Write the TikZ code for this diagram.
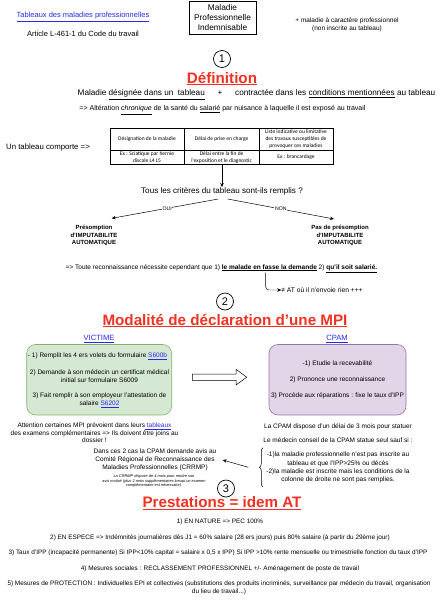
\documentclass[tikz,border=0pt]{standalone}
\usepackage{fontspec}
\setmainfont{Liberation Sans}
\newfontfamily\calib{Carlito}
\usetikzlibrary{arrows.meta,decorations.pathreplacing,calc}
\definecolor{linkblue}{RGB}{40,40,240}
\definecolor{titlered}{RGB}{240,50,35}
\definecolor{gfill}{RGB}{213,232,212}
\definecolor{gline}{RGB}{130,179,102}
\definecolor{pfill}{RGB}{225,213,231}
\definecolor{pline}{RGB}{150,115,166}
\newcommand{\fs}[2]{\fontsize{#1}{#2}\selectfont}
\newcommand{\lnk}[1]{\textcolor{linkblue}{\underline{#1}}}
\begin{document}
\begin{tikzpicture}[x=1pt,y=-1pt,
  txt/.style={inner sep=0pt,align=center,font=\fs{6.5}{8}},
  title/.style={inner sep=0pt,font=\fs{15.2}{16}\bfseries,text=titlered},
  num/.style={circle,draw,line width=0.7pt,minimum size=17pt,inner sep=0pt,font=\fs{11}{12}},
  arr/.style={-{Stealth[length=4pt,width=3.5pt]},line width=0.5pt},
  cell/.style={inner sep=0pt,align=center,font=\calib\fs{5.5}{7}},
  rbox/.style={rounded corners=9pt,line width=0.6pt,minimum height=70.5pt,inner sep=0pt},
  lbl/.style={fill=white,inner sep=0.6pt,font=\fs{5.2}{6}},
]
\useasboundingbox (0,0) rectangle (441,600);
% header
\node[txt,font=\fs{7.5}{9}] (tab) at (83,17) {\lnk{Tableaux des maladies professionnelles}};
\node[txt,font=\fs{7.5}{9}] (art) at (83,33.5) {Article L-461-1 du Code du travail};
\node[draw,line width=0.6pt,minimum width=67pt,minimum height=33pt,inner sep=0pt,align=center,font=\fs{8.3}{9.7}] (mpi) at (222.5,17.5) {Maladie\\Professionnelle\\Indemnisable};
\node[txt,font=\fs{6.5}{8.3}] (carac) at (347,24.5) {+ maladie à caractère professionnel\\(non inscrite au tableau)};
% section 1
\node[num] (n1) at (222,59) {1};
\node[title] (def) at (222,78.5) {\underline{Définition}};
\node[txt,font=\fs{8.2}{9}] (mal) at (256.5,94.5) {Maladie \underline{désignée dans un\ \ tableau}\quad\ \ +\ \ \quad contractée dans les \underline{conditions mentionnées} au tableau};
\node[txt,font=\fs{7}{8}] (alt) at (222.5,110) {=> Altération \underline{\textit{chronique}} de la santé du \underline{salarié} par nuisance à laquelle il est exposé au travail};
\node[txt,font=\fs{7.8}{9}] (comp) at (48,147) {Un tableau comporte =>};
% table
\draw[line width=0.5pt] (110,128.3) rectangle (333,164.3);
\draw[line width=0.4pt] (184.3,128.3) -- (184.3,164.3) (259,128.3) -- (259,164.3) (110,150) -- (333,150);
\node[cell] (c11) at (147,139.5) {Désignation de la maladie};
\node[cell] (c12) at (221.6,139.5) {Délai de prise en charge};
\node[cell] (c13) at (296,139.5) {Liste indicative ou limitative\\des travaux susceptibles de\\provoquer ces maladies};
\node[cell] (c21) at (147,157.3) {Ex : Sciatique par hernie\\discale L4 L5};
\node[cell] (c22) at (221.6,157.3) {Délai entre la fin de\\l'exposition et le diagnostic};
\node[cell] (c23) at (296,157.3) {Ex : brancardage};
\coordinate (tbot) at (222,164.3);
\node[txt,font=\fs{8.1}{9}] (q) at (222,191) {Tous les critères du tableau sont-ils remplis ?};
\draw[arr] (tbot) -- (q.north);
\node[txt,font=\bfseries\fs{6}{7.7}] (oui) at (94,235.5) {Présomption\\d'IMPUTABILITE\\AUTOMATIQUE};
\node[txt,font=\bfseries\fs{6}{7.7}] (non) at (340,235.5) {Pas de présomption\\d'IMPUTABILITE\\AUTOMATIQUE};
\coordinate (oa) at (218.3,199);
\coordinate (na) at (227.7,199);
\coordinate (oe) at (111.7,218.3);
\coordinate (ne) at (334,219);
\draw[arr] (oa) -- node[lbl,pos=0.48] {OUI} (oe);
\draw[arr] (na) -- node[lbl,pos=0.5] {NON} (ne);
\node[txt,font=\fs{6.5}{8}] (tout) at (221.5,268.5) {=> Toute reconnaissance nécessite cependant que 1) \textbf{\underline{le malade en fasse la demande}} 2) \textbf{\underline{qu'il soit salarié.}}};
\node[txt,font=\fs{6.7}{8}] (rien) at (322,290) {≠ AT où il n'envoie rien +++};
\coordinate (dem) at (265.7,272.7);
\draw[arr,line width=0.45pt,rounded corners=3pt] (dem) |- (rien.west);
% section 2
\node[num] (n2) at (225,301.5) {2};
\node[title] (mod) at (225,320.5) {\underline{Modalité de déclaration d'une MPI}};
\node[txt,font=\fs{7.6}{9}] (vic) at (99,339) {\lnk{VICTIME}};
\node[txt,font=\fs{7.6}{9}] (cpam) at (337,339) {\lnk{CPAM}};
\node[rbox,draw=gline,fill=gfill,minimum width=145pt] (gbox) at (99.2,379.7) {};
\node[txt] (g1) at (97.5,356.5) {- 1) Remplit les 4 ers volets du formulaire \lnk{S600b}};
\node[txt] (g2) at (99.5,376) {2) Demande à son médecin un certificat médical\\initial sur formulaire S6009};
\node[txt] (g3) at (99.5,400) {3) Fait remplir à son employeur l'attestation de\\salaire \lnk{S6202}};
\node[rbox,draw=pline,fill=pfill,minimum width=137pt] (pbox) at (337.5,379.7) {};
\node[txt] (p1b) at (337.5,363.5) {-1) Etudie la recevabilité};
\node[txt] (p2b) at (337.5,380) {2) Prononce une reconnaissance};
\node[txt] (p3b) at (337.5,396) {3) Procède aux réparations : fixe le taux d'IPP};
\draw[line width=0.5pt,fill=white] (192.3,374) -- (236,374) -- (236,369.3) -- (246.7,377.2) -- (236,385) -- (236,380.4) -- (192.3,380.4) -- cycle;
\node[txt,font=\fs{6.5}{7.6}] (att) at (94.5,433) {Attention certaines MPI prévoient dans leurs\lnk{ tableaux}\\des examens complémentaires => Ils doivent être joins au\\dossier !};
\node[txt] (delai) at (338,426.5) {La CPAM dispose d'un délai de 3 mois pour statuer};
\node[txt] (medc) at (338,440) {Le médecin conseil de la CPAM statue seul sauf si :};
\node[txt,font=\fs{6.5}{8.2}] (cas) at (338,467.5) {-1)la maladie professionnelle n'est pas inscrite au\\tableau et que l'IPP>25\% ou décès\\-2)la maladie est inscrite mais les conditions de la\\colonne de droite ne sont pas remplies.};
\draw[line width=0.5pt,decorate,decoration={brace,amplitude=3.5pt}] (263,486.7) -- (263,447.7);
\node[txt,font=\fs{6.5}{7.8}] (crrmp) at (155,460) {Dans ces 2 cas la CPAM demande avis au\\Comité Régional de Reconnaissance des\\Maladies Professionnelles (CRRMP)};
\node[inner sep=0pt,align=center,font=\itshape\fs{3.9}{4.6}] (crn) at (154,481) {La CRRMP dispose de 4 mois pour rendre son\\avis motivé (plus 2 mois supplémentaires lorsqu'un examen\\complémentaire est nécessaire).};
\coordinate (bl) at (248.3,467.3);
\coordinate (br) at (222.7,460);
\draw[arr] (bl) -- (br);
% section 3
\node[num] (n3) at (226,488.5) {3};
\node[title] (prest) at (222,503.5) {\underline{Prestations = idem AT}};
\node[txt,font=\fs{6.4}{7.7}] (r1) at (220,522) {1) EN NATURE => PEC 100\%};
\node[txt,font=\fs{6.4}{7.7}] (r2) at (220,538) {2) EN ESPECE => Indémnités journalières dès J1 = 60\% salaire (28 ers jours) puis 80\% salaire (à partir du 29ème jour)};
\node[txt,font=\fs{6.4}{7.7}] (r3) at (218,553) {3) Taux d'IPP (incapacité permanente) Si IPP<10\% capital = salaire x 0,5 x IPP) Si IPP >10\% rente mensuelle ou trimestrielle fonction du taux d'IPP};
\node[txt,font=\fs{6.4}{7.7}] (r4) at (220,569) {4) Mesures sociales : RECLASSEMENT PROFESSIONNEL +/- Aménagement de poste de travail};
\node[txt,font=\fs{6.4}{7.7}] (r5) at (219,588) {5) Mesures de PROTECTION : Individuelles EPI et collectives (substitutions des produits incriminés, surveillance par médecin du travail, organisation\\du lieu de travail...)};
\end{tikzpicture}
\end{document}
